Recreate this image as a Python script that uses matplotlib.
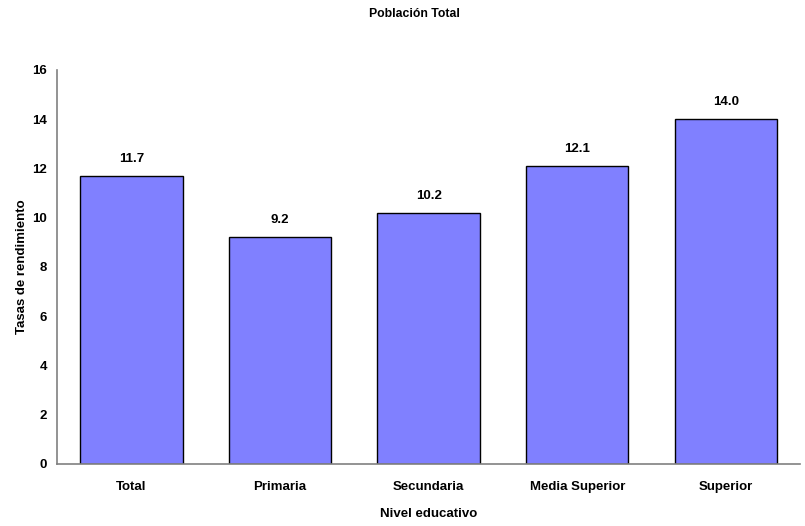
import matplotlib.pyplot as plt

plt.rcParams['font.family'] = ['Liberation Sans', 'DejaVu Sans']
plt.rcParams['font.weight'] = 'bold'

niveles = ['Total', 'Primaria', 'Secundaria', 'Media Superior', 'Superior']
tasas = [11.7, 9.2, 10.2, 12.1, 14.0]

fig = plt.figure(figsize=(8.05, 5.26), dpi=100)
ax = fig.add_axes([0.0708, 0.1179, 0.9232, 0.7491])

x = range(len(niveles))
bars = ax.bar(x, tasas, width=0.69, color='#8080ff', edgecolor='black', linewidth=1.0)
for b, v in zip(bars, tasas):
    ax.text(b.get_x() + b.get_width() / 2, v + 0.45, f'{v:.1f}', ha='center', va='bottom',
            fontsize=9.5, fontweight='bold')

ax.set_xlim(-0.5, len(niveles) - 0.5)
ax.set_ylim(0, 16)
ax.set_yticks(range(0, 17, 2))
ax.set_xticks(list(x))
ax.set_xticklabels(niveles)
ax.tick_params(axis='both', length=0, labelsize=9.5)
ax.tick_params(axis='y', pad=7)
ax.tick_params(axis='x', pad=12)

for side in ['top', 'right']:
    ax.spines[side].set_visible(False)
for side in ['left', 'bottom']:
    ax.spines[side].set_color('#808080')
    ax.spines[side].set_linewidth(1.2)

ax.set_xlabel('Nivel educativo', fontsize=9.5, fontweight='bold', labelpad=11)
ax.set_ylabel('Tasas de rendimiento', fontsize=9.5, fontweight='bold', labelpad=3)
fig.text(0.515, 0.973, 'Población Total', ha='center', va='center', fontsize=8.8, fontweight='bold')

fig.savefig('out.png', dpi=100)
